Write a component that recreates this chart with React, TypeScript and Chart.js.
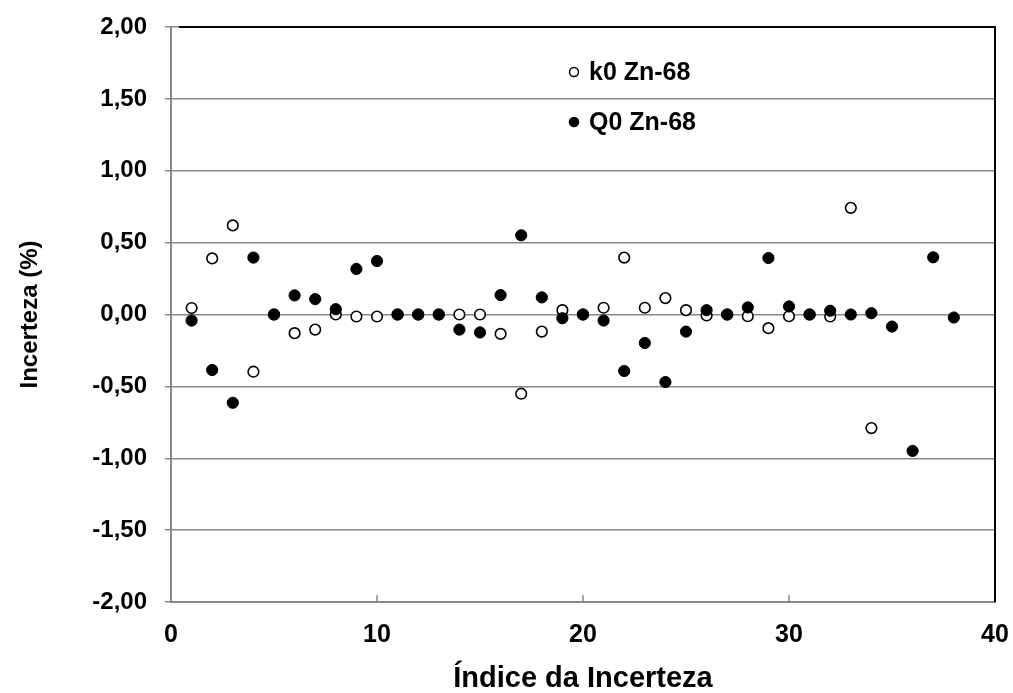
import React, { useEffect, useRef } from "react";
import { Chart, registerables } from "chart.js";

Chart.register(...registerables);

const indicesK0 = [1,2,3,4,5,6,7,8,9,10,11,12,13,14,15,16,17,18,19,20,21,22,23,24,25,26,27,28,29,30,31,32,33,34];
const valuesK0 = [0.045,0.39,0.62,-0.398,0,-0.13,-0.105,0,-0.014,-0.014,0,0,0,0,0,-0.135,-0.551,-0.119,0.03,0,0.047,0.396,0.047,0.114,0.03,-0.007,0,-0.012,-0.095,-0.012,0,-0.014,0.742,-0.79];

const indicesQ0 = [1,2,3,4,5,6,7,8,9,10,11,12,13,14,15,16,17,18,19,20,21,22,23,24,25,26,27,28,29,30,31,32,33,34,35,36,37,38];
const valuesQ0 = [-0.042,-0.386,-0.614,0.396,0,0.133,0.107,0.037,0.317,0.372,0,0,0,-0.105,-0.125,0.135,0.551,0.119,-0.026,0,-0.042,-0.393,-0.198,-0.47,-0.119,0.03,0,0.049,0.393,0.056,0,0.026,0,0.009,-0.084,-0.949,0.398,-0.021];

const seriesLabels = ["k0 Zn-68", "Q0 Zn-68"];
const xTitle = "Índice da Incerteza";
const yTitle = "Incerteza (%)";

const FONT = "'Liberation Sans', Arial, sans-serif";
const W = 1013;
const H = 693;

const framePlugin = {
  id: "frame",
  afterDraw(chart: any) {
    const { ctx, chartArea, scales } = chart;
    const { left, right, top, bottom } = chartArea;
    ctx.save();
    // inward x ticks
    ctx.strokeStyle = "#888888";
    ctx.lineWidth = 1.5;
    const xs = scales.x;
    xs.ticks.forEach((t: any) => {
      if (t.value <= xs.min || t.value >= xs.max) return;
      const px = xs.getPixelForValue(t.value);
      ctx.beginPath();
      ctx.moveTo(px, bottom);
      ctx.lineTo(px, bottom - 7);
      ctx.stroke();
    });
    // top and right borders
    ctx.strokeStyle = "#000000";
    ctx.lineWidth = 2;
    ctx.beginPath();
    ctx.moveTo(left + 8, top);
    ctx.lineTo(right, top);
    ctx.lineTo(right, bottom);
    ctx.stroke();
    // legend
    const lx = left + 403;
    const ly = top + 45;
    chart.data.datasets.forEach((ds: any, i: number) => {
      const cy = ly + i * 50;
      ctx.beginPath();
      ctx.arc(lx, cy, 4.5, 0, Math.PI * 2);
      ctx.fillStyle = ds.backgroundColor;
      ctx.fill();
      ctx.lineWidth = 1.5;
      ctx.strokeStyle = "#000000";
      ctx.stroke();
      ctx.fillStyle = "#000000";
      ctx.font = `bold 25px ${FONT}`;
      ctx.textBaseline = "middle";
      ctx.textAlign = "left";
      ctx.fillText(ds.label, lx + 15, cy + 1);
    });
    ctx.restore();
  },
};

const zeroPad = (s: any) => {
  s.paddingLeft = 0;
  s.paddingRight = 0;
  s.paddingTop = 0;
  s.paddingBottom = 0;
};

export default function App() {
  const canvasRef = useRef<HTMLCanvasElement | null>(null);

  useEffect(() => {
    document.body.style.margin = "0";
    if (!canvasRef.current) return;
    const chart = new Chart(canvasRef.current, {
      type: "scatter",
      data: {
        datasets: [
          {
            label: seriesLabels[0],
            data: indicesK0.map((x, i) => ({ x, y: valuesK0[i] })),
            backgroundColor: "#ffffff",
            borderColor: "#000000",
            borderWidth: 1.6,
            pointRadius: 5.3,
            order: 1,
          },
          {
            label: seriesLabels[1],
            data: indicesQ0.map((x, i) => ({ x, y: valuesQ0[i] })),
            backgroundColor: "#000000",
            borderColor: "#000000",
            borderWidth: 1,
            pointRadius: 5.6,
            order: 0,
          },
        ],
      },
      options: {
        animation: false,
        responsive: false,
        devicePixelRatio: 1,
        layout: { padding: { top: 27, right: 18, left: 0, bottom: 0 } },
        plugins: {
          legend: { display: false },
          tooltip: { enabled: false },
        },
        scales: {
          x: {
            type: "linear",
            min: 0,
            max: 40,
            afterFit: (s: any) => { s.height = 91; zeroPad(s); },
            ticks: {
              stepSize: 10,
              color: "#000000",
              padding: 18,
              maxRotation: 0,
              font: { family: FONT, size: 25, weight: "bold" },
              callback: (v: any) => String(v),
            },
            grid: { display: true, drawOnChartArea: false, drawTicks: false, color: "#888888" },
            border: { display: true, color: "#888888", width: 2 },
            title: {
              display: true,
              text: xTitle,
              color: "#000000",
              font: { family: FONT, size: 29, weight: "bold" },
              padding: { top: 0, bottom: -3 },
            },
          },
          y: {
            type: "linear",
            min: -2,
            max: 2,
            afterFit: (s: any) => { s.width = 171; zeroPad(s); },
            ticks: {
              stepSize: 0.5,
              color: "#000000",
              padding: 18,
              font: { family: FONT, size: 24, weight: "bold" },
              callback: (v: any) => Number(v).toFixed(2).replace(".", ","),
            },
            grid: { color: "#888888", lineWidth: 1.5, drawTicks: true, tickLength: 6 },
            border: { display: true, color: "#888888", width: 2 },
            title: {
              display: true,
              text: yTitle,
              color: "#000000",
              font: { family: FONT, size: 24, weight: "bold" },
              padding: { top: 16, bottom: 0 },
            },
          },
        },
      },
      plugins: [framePlugin],
    });
    return () => chart.destroy();
  }, []);

  return (
    <div style={{ position: "absolute", left: 0, top: 0, width: W, height: H, background: "#ffffff" }}>
      <canvas ref={canvasRef} width={W} height={H} style={{ display: "block", width: W, height: H }} />
    </div>
  );
}
